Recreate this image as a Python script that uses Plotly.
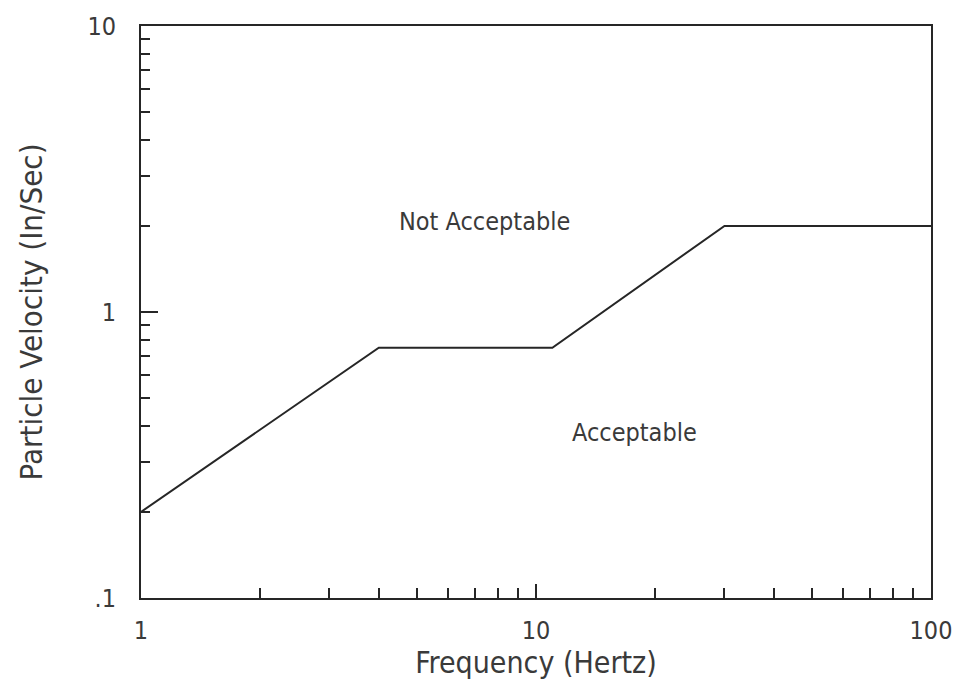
import math
import plotly.graph_objects as go

# Limit curve: peak particle velocity vs. frequency
freq_hz = [1, 4, 11, 30, 100]
velocity_ips = [0.2, 0.75, 0.75, 2.0, 2.0]

x_tick_vals = [1, 10, 100]
x_tick_text = ["1", "10", "100"]
y_tick_vals = [0.1, 1, 10]
y_tick_text = [".1", "1", "10"]

region_labels = ["Not Acceptable", "Acceptable"]
region_x = [7.4, 17.8]
region_y = [2.08, 0.38]

x_minor = [m * d for d in (1, 10) for m in range(2, 10)]
y_minor = [m * d for d in (0.1, 1) for m in range(2, 10)]

FONT = "DejaVu Sans Condensed, DejaVu Sans, sans-serif"
INK = "#262626"
TEXT = "#3a3a3a"

fig = go.Figure()
fig.add_trace(go.Scatter(
    x=freq_hz, y=velocity_ips, mode="lines",
    line=dict(color=INK, width=2), showlegend=False, hoverinfo="skip",
))

# annotations on log axes are positioned in log10 units
for txt, xv, yv in zip(region_labels, region_x, region_y):
    fig.add_annotation(x=math.log10(xv), y=math.log10(yv), xref="x", yref="y",
                       text=txt, showarrow=False,
                       xanchor="center", yanchor="middle",
                       font=dict(family=FONT, size=25, color=TEXT))

axis_common = dict(
    type="log", showgrid=False, zeroline=False,
    showline=True, linewidth=2, linecolor=INK, mirror=True,
    ticks="inside", tickwidth=2, tickcolor=INK,
    tickfont=dict(family=FONT, size=25, color=TEXT),
    tickmode="array",
)

fig.update_xaxes(
    **axis_common, range=[0, 2], tickvals=x_tick_vals, ticktext=x_tick_text,
    ticklen=14, ticklabelstandoff=9,
    minor=dict(tickvals=x_minor, ticks="inside", ticklen=10, tickwidth=2,
               tickcolor=INK, showgrid=False),
    title=dict(text="Frequency (Hertz)", standoff=8,
               font=dict(family=FONT, size=30, color=TEXT)),
)
fig.update_yaxes(
    **axis_common, range=[-1, 1], tickvals=y_tick_vals, ticktext=y_tick_text,
    ticklen=17, ticklabelstandoff=18,
    minor=dict(tickvals=y_minor, ticks="inside", ticklen=9, tickwidth=2,
               tickcolor=INK, showgrid=False),
    title=dict(text="Particle Velocity (In/Sec)", standoff=36,
               font=dict(family=FONT, size=31, color=TEXT)),
)

fig.update_layout(
    width=964, height=691,
    margin=dict(l=141, r=29, t=18, b=93),
    paper_bgcolor="white", plot_bgcolor="white",
)

fig.write_html("out.html")
